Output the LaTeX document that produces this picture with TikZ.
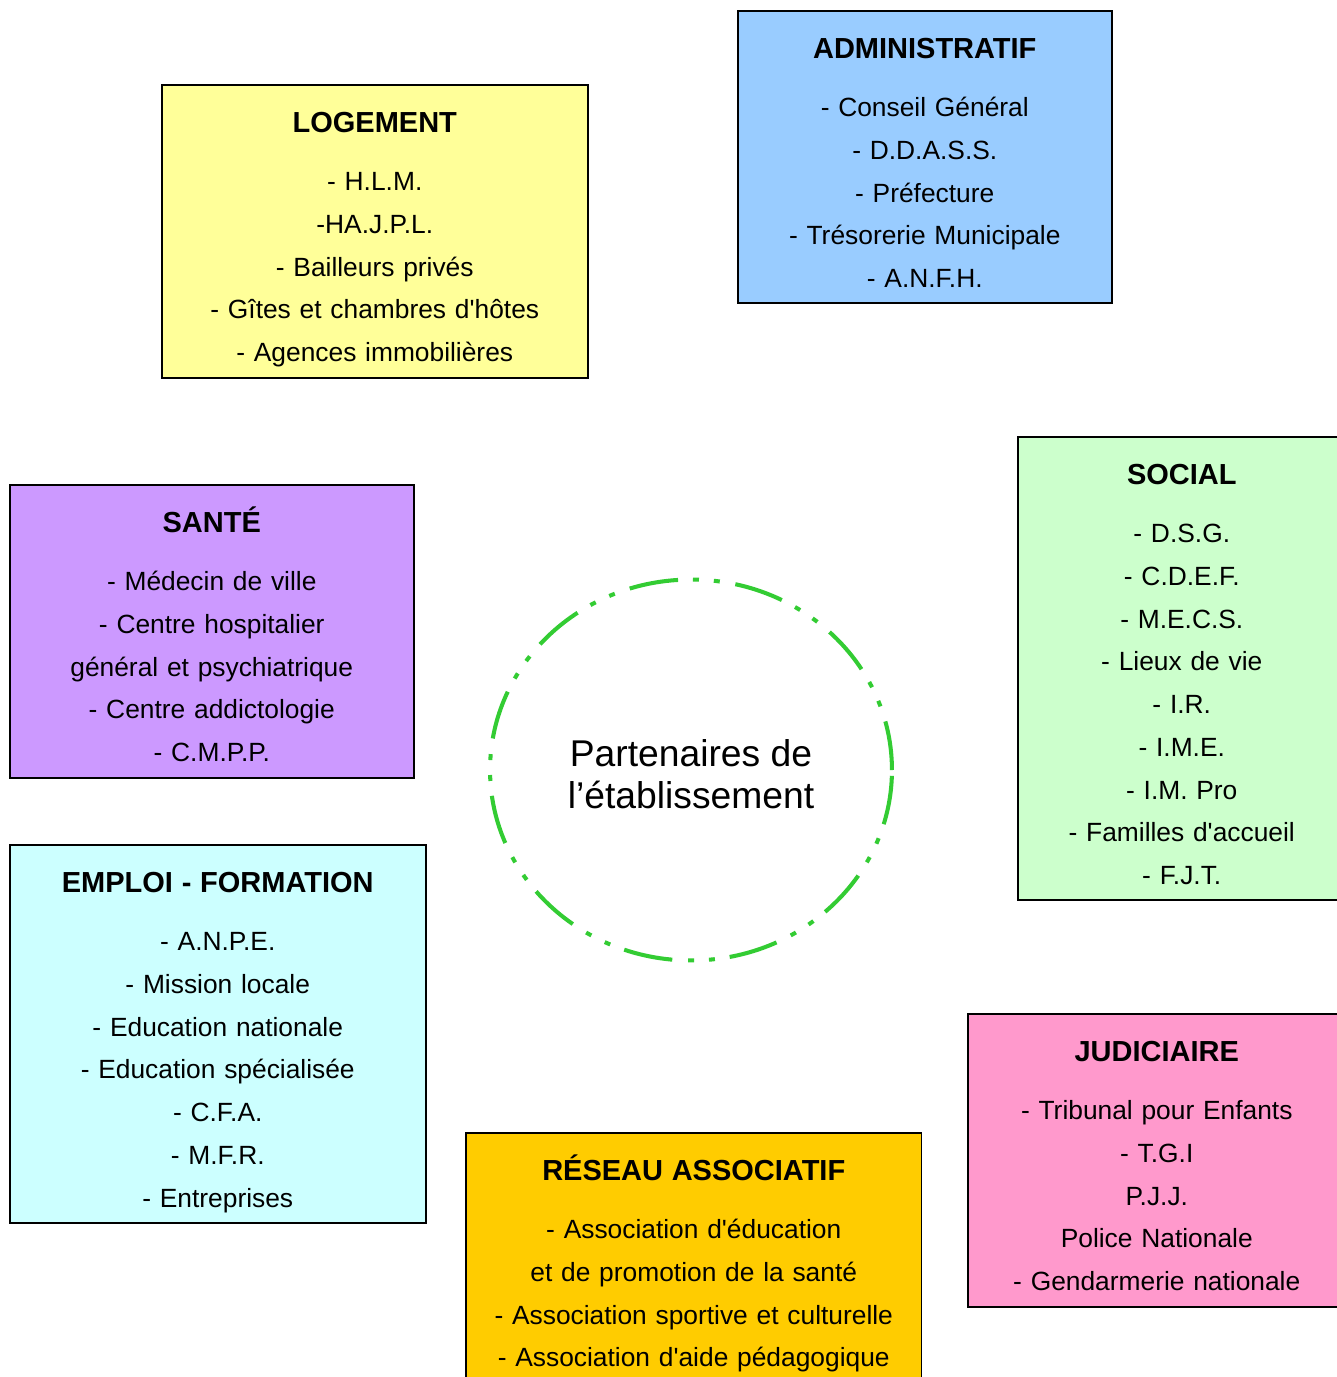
\documentclass[tikz,border=0pt]{standalone}
\usepackage{fontspec}
\newfontfamily\arial{Liberation Sans}
\usetikzlibrary{shapes, shapes.geometric, positioning}

\definecolor{jaune}{HTML}{FFFF99}
\definecolor{bleu}{HTML}{99CCFF}
\definecolor{mauve}{HTML}{CC99FF}
\definecolor{vertpale}{HTML}{CCFFCC}
\definecolor{turquoise}{HTML}{CCFFFF}
\definecolor{rose}{HTML}{FF99CC}
\definecolor{or}{HTML}{FFCC00}
\definecolor{vertvif}{HTML}{33CC33}

\newcommand{\titre}[1]{{\bfseries\fontsize{16.5}{24.3}\selectfont\vphantom{É}#1}\\[9.2pt]}

\begin{document}
\begin{tikzpicture}[
  x=0.02cm, y=-0.02cm,
  boite/.style={rectangle, draw=black, line width=0.9pt, anchor=north west, inner sep=0pt},
  liste/.style={inner sep=0pt, align=center, font=\arial\fontsize{15}{24.3}\selectfont},
  partenaires/.style={ellipse, draw=vertvif, line width=2.3pt,
    dash pattern=on 28pt off 9pt on 3.4pt off 8.5pt on 3.4pt off 8.5pt,
    minimum width=8.04cm, minimum height=7.62cm, align=center,
    font=\arial\fontsize{21.2}{23.9}\selectfont}]

  \path[use as bounding box, fill=white] (0,0) rectangle (1337,1377);

  % les cadres
  \node[boite, fill=jaune, minimum width=8.52cm, minimum height=5.86cm] (logement) at (161,84) {};
  \node[boite, fill=bleu, minimum width=7.48cm, minimum height=5.84cm] (admin) at (737,10) {};
  \node[boite, fill=mauve, minimum width=8.08cm, minimum height=5.86cm] (sante) at (9,484) {};
  \node[boite, fill=vertpale, minimum width=6.56cm, minimum height=9.26cm] (social) at (1017,436) {};
  \node[boite, fill=turquoise, minimum width=8.32cm, minimum height=7.56cm] (emploi) at (9,844) {};
  \node[boite, fill=rose, minimum width=7.56cm, minimum height=5.86cm] (judiciaire) at (967,1013) {};
  \node[boite, fill=or, minimum width=9.12cm, minimum height=6cm] (reseau) at (465,1132) {};

  % les textes
  \node[liste, text width=8.52cm, below=12.5pt of logement.north] (logement-txt) {\titre{LOGEMENT}
    - H.L.M.\\ -HA.J.P.L.\\ - Bailleurs privés\\ - Gîtes et chambres d'hôtes\\ - Agences immobilières};
  \node[liste, text width=7.48cm, below=12.5pt of admin.north] (admin-txt) {\titre{ADMINISTRATIF}
    - Conseil Général\\ - D.D.A.S.S.\\ - Préfecture\\ - Trésorerie Municipale\\ - A.N.F.H.};
  \node[liste, text width=8.08cm, below=12.5pt of sante.north] (sante-txt) {\titre{SANTÉ}
    - Médecin de ville\\ - Centre hospitalier\\ général et psychiatrique\\ - Centre addictologie\\ - C.M.P.P.};
  \node[liste, text width=6.56cm, below=12.5pt of social.north] (social-txt) {\titre{SOCIAL}
    - D.S.G.\\ - C.D.E.F.\\ - M.E.C.S.\\ - Lieux de vie\\ - I.R.\\ - I.M.E.\\ - I.M. Pro\\ - Familles d'accueil\\ - F.J.T.};
  \node[liste, text width=8.32cm, below=12.5pt of emploi.north] (emploi-txt) {\titre{EMPLOI - FORMATION}
    - A.N.P.E.\\ - Mission locale\\ - Education nationale\\ - Education spécialisée\\ - C.F.A.\\ - M.F.R.\\ - Entreprises};
  \node[liste, text width=7.56cm, below=12.5pt of judiciaire.north] (judiciaire-txt) {\titre{JUDICIAIRE}
    - Tribunal pour Enfants\\ - T.G.I\\ P.J.J.\\ Police Nationale\\ - Gendarmerie nationale};
  \node[liste, text width=9.12cm, below=12.5pt of reseau.north] (reseau-txt) {\titre{RÉSEAU ASSOCIATIF}
    - Association d'éducation\\ et de promotion de la santé\\ - Association sportive et culturelle\\ - Association d'aide pédagogique};

  \node[partenaires] (centre) at (691,770) {\rule{0pt}{20pt}Partenaires de\\l’établissement};
\end{tikzpicture}
\end{document}
